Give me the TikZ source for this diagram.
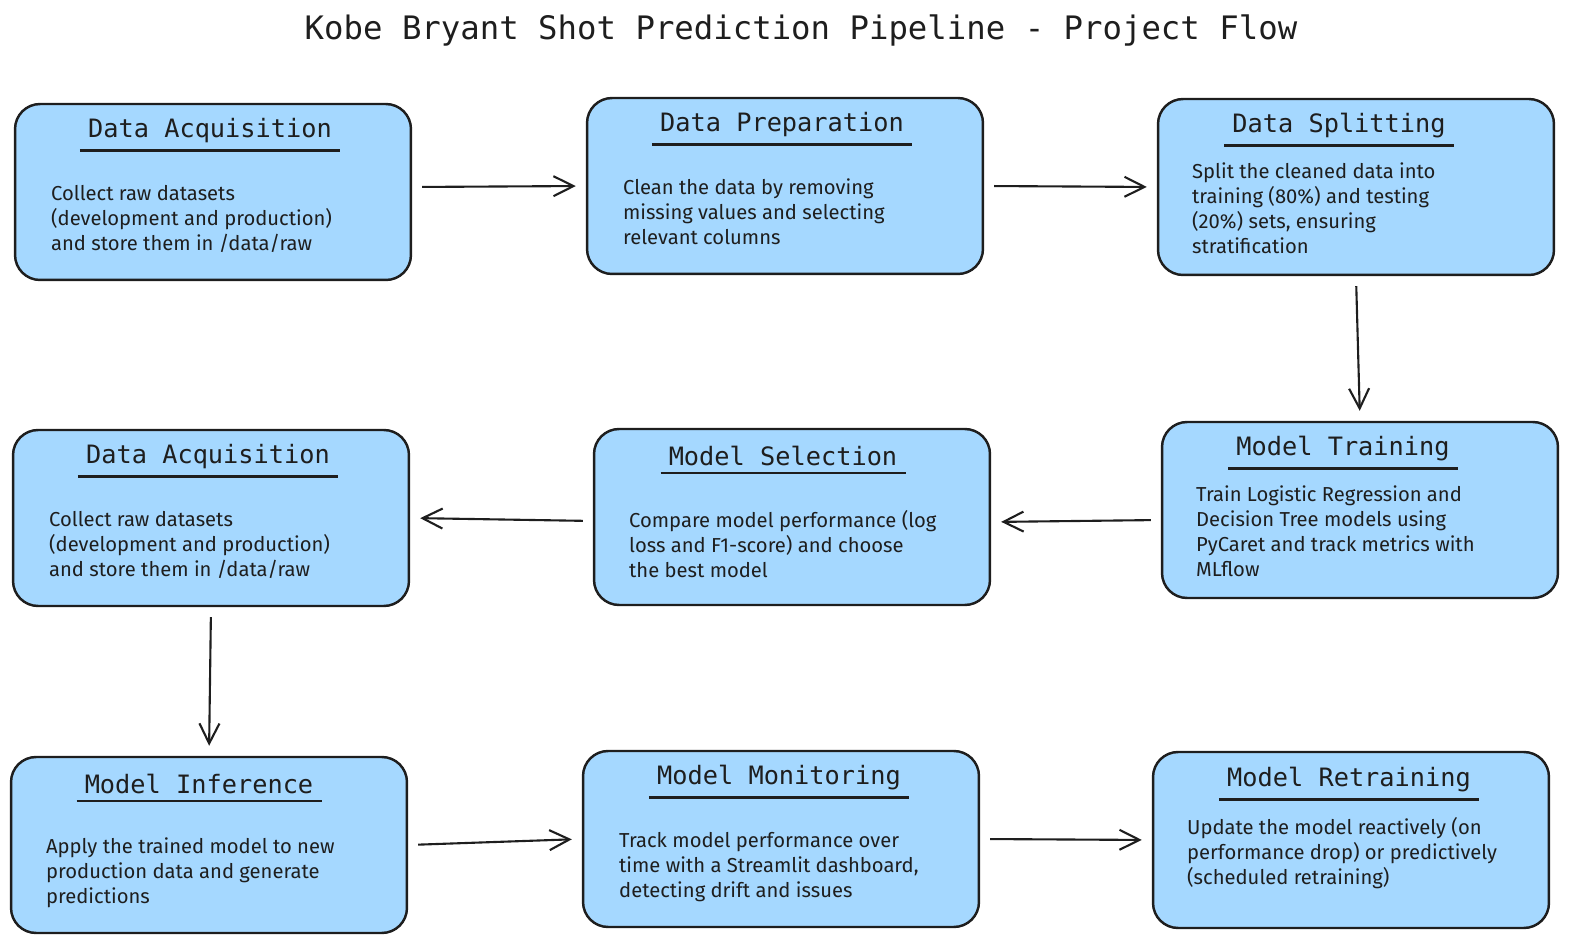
\documentclass[tikz,border=0pt]{standalone}
\usepackage{fontspec}
\setmainfont{Fira Sans}
\newfontfamily\monofont{DejaVu Sans Mono}
\usepackage{tikz}
\usetikzlibrary{calc, positioning, arrows.meta}
\definecolor{boxblue}{HTML}{A5D8FF}
\definecolor{ink}{HTML}{1E1E1E}
\tikzstyle{stage}=[draw=ink, fill=boxblue, line width=1.4pt, rounded corners=0.5cm, minimum width=7.92cm, minimum height=3.52cm]
\tikzstyle{head}=[inner xsep=4.5pt, inner ysep=4pt, text=ink, font=\monofont\fontsize{14.4}{16}\selectfont]
\tikzstyle{uline}=[draw=ink, line width=1.3pt]
\tikzstyle{body}=[anchor=north west, inner sep=0pt, align=left, text=ink, font=\fontsize{11.5}{14.2}\selectfont]
\tikzstyle{flow}=[->, draw=ink, line width=1.2pt, shorten <=0.2cm, shorten >=0.2cm]
\tikzset{>={Straight Barb[length=4mm, width=4mm]}}

\begin{document}
\begin{tikzpicture}[x=0.02cm, y=-0.02cm]
\useasboundingbox (0,0) rectangle (1583,952);
\node[text=ink, font=\monofont\fontsize{18.4}{22}\selectfont] (title) at (801,31) {Kobe Bryant Shot Prediction Pipeline - Project Flow};
%
\node[stage] (acq) at (213,192) {};
\node[stage] (prep) at (785,186) {};
\node[stage] (split) at (1356,187) {};
\node[stage] (train) at (1360,510) {};
\node[stage] (select) at (792,517) {};
\node[stage] (acqb) at (211,518) {};
\node[stage] (infer) at (209,845) {};
\node[stage] (monitor) at (781,839) {};
\node[stage] (retrain) at (1351,840) {};
%
\node[head] (acqT) at ($(acq.north)+(-3,28)$) {Data Acquisition};
\node[head] (prepT) at ($(prep.north)+(-3,28)$) {Data Preparation};
\node[head] (splitT) at ($(split.north)+(-17,28)$) {Data Splitting};
\node[head] (trainT) at ($(train.north)+(-17,28)$) {Model Training};
\node[head] (selectT) at ($(select.north)+(-9,28)$) {Model Selection};
\node[head] (acqbT) at ($(acqb.north)+(-3,28)$) {Data Acquisition};
\node[head] (inferT) at ($(infer.north)+(-10,28)$) {Model Inference};
\node[head] (monitorT) at ($(monitor.north)+(-2,28)$) {Model Monitoring};
\node[head] (retrainT) at ($(retrain.north)+(-2,29)$) {Model Retraining};
\foreach \t in {acqT, prepT, splitT, trainT, selectT, acqbT, inferT, monitorT, retrainT}
  \draw[uline] (\t.south west) -- (\t.south east);
%
\node[body] (acqB) at ($(acq.north west)+(37,82)$) {Collect raw datasets\\(development and production)\\and store them in /data/raw};
\node[body] (prepB) at ($(prep.north west)+(37,82)$) {Clean the data by removing\\missing values and selecting\\relevant columns};
\node[body] (splitB) at ($(split.north west)+(35,65)$) {Split the cleaned data into\\training (80\%) and testing\\(20\%) sets, ensuring\\stratification};
\node[body] (trainB) at ($(train.north west)+(35,65)$) {Train Logistic Regression and\\Decision Tree models using\\PyCaret and track metrics with\\MLflow};
\node[body] (selectB) at ($(select.north west)+(36,82)$) {Compare model performance (log\\loss and F1-score) and choose\\the best model};
\node[body] (acqbB) at ($(acqb.north west)+(37,82)$) {Collect raw datasets\\(development and production)\\and store them in /data/raw};
\node[body] (inferB) at ($(infer.north west)+(36,82)$) {Apply the trained model to new\\production data and generate\\predictions};
\node[body] (monitorB) at ($(monitor.north west)+(37,82)$) {Track model performance over\\time with a Streamlit dashboard,\\detecting drift and issues};
\node[body] (retrainB) at ($(retrain.north west)+(35,66)$) {Update the model reactively (on\\performance drop) or predictively\\(scheduled retraining)};
%
\draw[flow] ([yshift=0.1cm]acq.east) -- (prep.west);
\draw[flow] (prep.east) -- (split.west);
\draw[flow] (split.south) -- (train.north);
\draw[flow] ([yshift=-0.2cm]train.west) -- ([yshift=-0.1cm]select.east);
\draw[flow] ([yshift=-0.08cm]select.west) -- (acqb.east);
\draw[flow] (acqb.south) -- (infer.north);
\draw[flow] (infer.east) -- (monitor.west);
\draw[flow] (monitor.east) -- (retrain.west);
\end{tikzpicture}
\end{document}
